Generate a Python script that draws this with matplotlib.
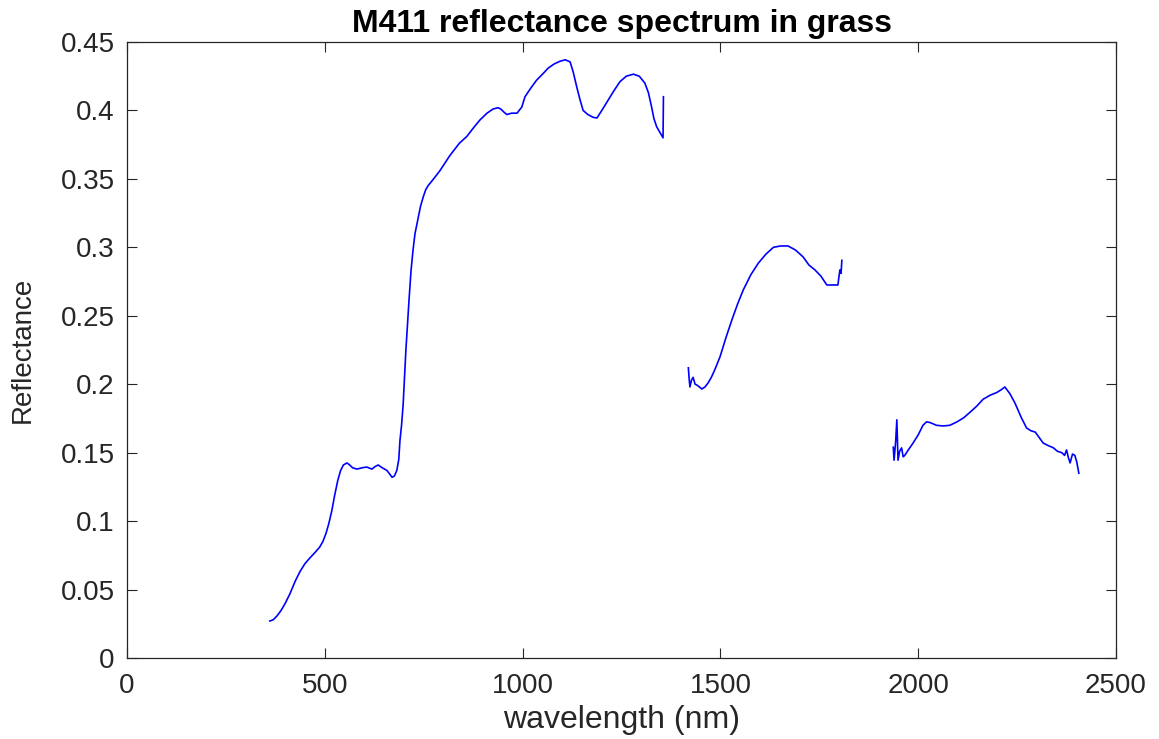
import matplotlib
matplotlib.use("Agg")
import matplotlib.pyplot as plt

# Segment 1 (VNIR)
wl1 = [361, 370, 380, 390, 400, 412, 425, 437, 450, 462, 475, 487, 495, 503, 510, 518, 525, 533, 540, 547,
       556, 563, 570, 581, 595, 606, 619, 628, 635, 645, 657, 665, 670, 676, 682, 687, 690, 694, 698, 705,
       713, 718, 723, 728, 735, 742, 749, 755, 761, 775, 791, 816, 840, 859, 875, 892, 910, 925, 938, 945,
       952, 960, 972, 986, 998, 1006, 1020, 1035, 1052, 1065, 1080, 1095, 1108, 1120, 1128, 1137, 1145,
       1153, 1165, 1178, 1188, 1198, 1213, 1230, 1246, 1262, 1280, 1295, 1309, 1318, 1325, 1332, 1339,
       1347, 1355, 1356]
r1 = [0.027, 0.028, 0.031, 0.035, 0.040, 0.047, 0.056, 0.063, 0.069, 0.073, 0.077, 0.081, 0.085, 0.091,
      0.098, 0.108, 0.119, 0.130, 0.137, 0.141, 0.1425, 0.141, 0.139, 0.138, 0.139, 0.1395, 0.138, 0.140,
      0.141, 0.139, 0.137, 0.134, 0.132, 0.133, 0.137, 0.145, 0.159, 0.170, 0.185, 0.225, 0.262, 0.283,
      0.298, 0.310, 0.320, 0.330, 0.337, 0.342, 0.345, 0.350, 0.356, 0.367, 0.376, 0.381, 0.387, 0.393,
      0.398, 0.401, 0.402, 0.401, 0.399, 0.397, 0.398, 0.398, 0.4025, 0.410, 0.416, 0.422, 0.427, 0.431,
      0.434, 0.436, 0.437, 0.4355, 0.428, 0.417, 0.408, 0.400, 0.397, 0.395, 0.3945, 0.399, 0.406, 0.414,
      0.421, 0.425, 0.4265, 0.425, 0.420, 0.413, 0.404, 0.394, 0.388, 0.384, 0.380, 0.410]

# Segment 2 (SWIR 1)
wl2 = [1419, 1421, 1423, 1427, 1431, 1436, 1440, 1447, 1453, 1461, 1469, 1477, 1485, 1492, 1499, 1514, 1529,
       1544, 1558, 1577, 1596, 1615, 1634, 1652, 1671, 1690, 1709, 1724, 1739, 1754, 1769, 1783, 1797, 1799,
       1802, 1805, 1807]
r2 = [0.212, 0.204, 0.198, 0.203, 0.205, 0.200, 0.1995, 0.198, 0.1965, 0.198, 0.201, 0.205, 0.210, 0.215,
      0.220, 0.234, 0.247, 0.259, 0.269, 0.280, 0.2885, 0.295, 0.300, 0.301, 0.301, 0.298, 0.293, 0.287,
      0.2835, 0.279, 0.2725, 0.2725, 0.2725, 0.277, 0.2835, 0.281, 0.2905]

# Segment 3 (SWIR 2)
wl3 = [1937, 1939, 1943, 1946, 1949, 1953, 1958, 1962, 1966, 1975, 1987, 2000, 2012, 2021, 2030, 2046, 2063,
       2080, 2098, 2115, 2131, 2148, 2164, 2182, 2199, 2210, 2219, 2232, 2245, 2260, 2274, 2285, 2296, 2306,
       2316, 2330, 2342, 2352, 2363, 2370, 2375, 2380, 2384, 2390, 2396, 2401, 2406]
r3 = [0.154, 0.1445, 0.158, 0.174, 0.1445, 0.151, 0.1535, 0.147, 0.148, 0.152, 0.157, 0.163, 0.170, 0.1725,
      0.172, 0.170, 0.1695, 0.170, 0.1725, 0.1755, 0.1795, 0.184, 0.189, 0.192, 0.194, 0.196, 0.198, 0.193,
      0.186, 0.176, 0.168, 0.166, 0.165, 0.161, 0.157, 0.155, 0.1535, 0.151, 0.150, 0.148, 0.152, 0.146,
      0.1425, 0.149, 0.148, 0.143, 0.135]

xticks = [0, 500, 1000, 1500, 2000, 2500]
yticks = [0, 0.05, 0.1, 0.15, 0.2, 0.25, 0.3, 0.35, 0.4, 0.45]
ytick_labels = ["0", "0.05", "0.1", "0.15", "0.2", "0.25", "0.3", "0.35", "0.4", "0.45"]

plt.rcParams['font.family'] = ['Liberation Sans', 'DejaVu Sans']
fig = plt.figure(figsize=(11.59, 7.39), dpi=100)
ax = fig.add_axes([127/1159, 81/739, 989/1159, 616/739])

for w, r in [(wl1, r1), (wl2, r2), (wl3, r3)]:
    ax.plot(w, r, color='#0000ff', linewidth=1.2)

ax.set_xlim(0, 2500)
ax.set_ylim(0, 0.45)
ax.set_xticks(xticks)
ax.set_xticklabels([str(t) for t in xticks])
ax.set_yticks(yticks)
ax.set_yticklabels(ytick_labels)
gray = '#262626'
ax.tick_params(direction='in', length=7, width=0.8, top=True, right=True, labelsize=20,
               colors=gray)
ax.tick_params(axis='x', pad=11)
ax.tick_params(axis='y', pad=9)
for s in ax.spines.values():
    s.set_color(gray)
    s.set_linewidth(0.9)
ax.set_xlabel('wavelength (nm)', fontsize=23, color=gray, labelpad=4)
ax.set_ylabel('Reflectance', fontsize=20, color=gray, labelpad=18)
ax.set_title('M411 reflectance spectrum in grass', fontsize=23, fontweight='bold', color='black', pad=7)

fig.savefig('out.png', dpi=100)
